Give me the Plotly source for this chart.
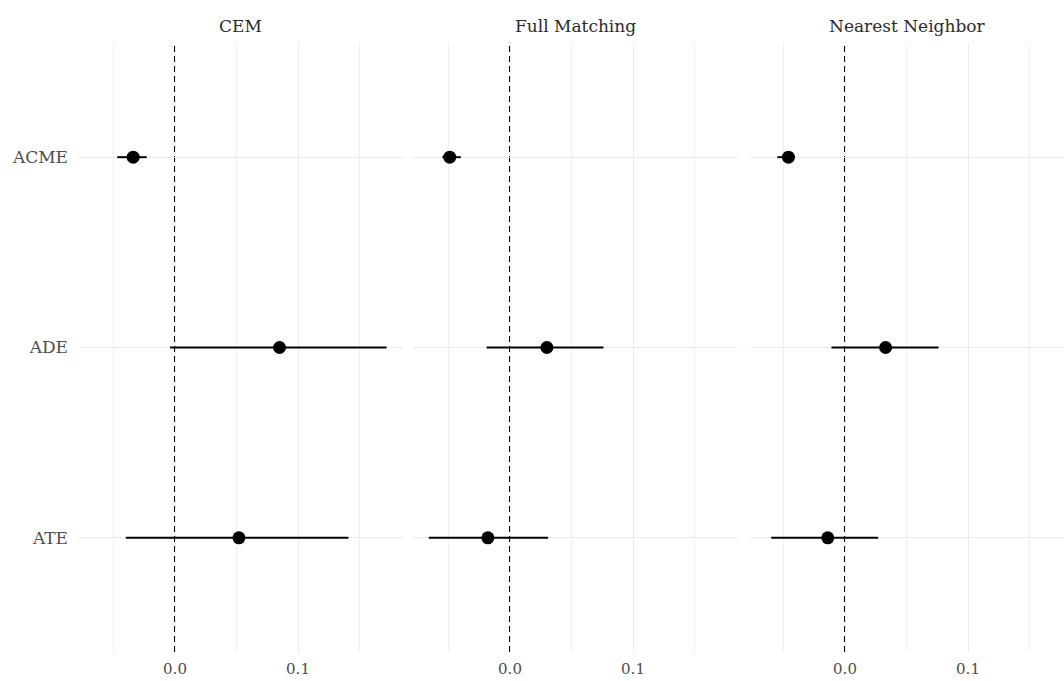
import plotly.graph_objects as go

methods = ["CEM", "Full Matching", "Nearest Neighbor"]
effects = ["ACME", "ADE", "ATE"]

est_cem = [-0.034, 0.085, 0.052]
low_cem = [-0.047, -0.004, -0.040]
upp_cem = [-0.023, 0.172, 0.141]

est_fm = [-0.049, 0.030, -0.018]
low_fm = [-0.055, -0.019, -0.066]
upp_fm = [-0.040, 0.076, 0.031]

est_nn = [-0.046, 0.033, -0.014]
low_nn = [-0.055, -0.011, -0.060]
upp_nn = [-0.041, 0.076, 0.027]

x_tickvals = [0.0, 0.1]
x_ticktext = ["0.0", "0.1"]

data = [(est_cem, low_cem, upp_cem), (est_fm, low_fm, upp_fm), (est_nn, low_nn, upp_nn)]

W, H = 1064, 681
ML, MR, MT, MB = 78, 0, 43, 29
pw = W - ML - MR
panels_px = [(78, 403), (413, 738), (750, 1064)]
domains = [[(a - ML) / pw, (b - ML) / pw] for a, b in panels_px]
px_per_unit = 1230.0
zero_px = [175, 510, 845]
ranges = [[(a - z) / px_per_unit, (b - z) / px_per_unit] for (a, b), z in zip(panels_px, zero_px)]

FONT = "DejaVu Serif"
fig = go.Figure()

for i, (est, low, upp) in enumerate(data):
    xa = "x" if i == 0 else f"x{i+1}"
    plus = [u - e for u, e in zip(upp, est)]
    minus = [e - l for e, l in zip(est, low)]
    fig.add_trace(go.Scatter(
        x=est, y=effects, mode="markers", xaxis=xa, yaxis="y",
        marker=dict(color="black", size=13),
        error_x=dict(type="data", array=plus, arrayminus=minus, color="black",
                     thickness=2, width=0),
        showlegend=False, cliponaxis=False,
    ))
    fig.add_shape(type="line", x0=0, x1=0, y0=0, y1=1, xref=xa,
                  yref="y domain", line=dict(color="black", width=2, dash="6px,4px"),
                  layer="below")
    fig.add_annotation(text=methods[i], x=sum(domains[i]) / 2, xref="paper",
                       y=1 + (MT - 26) / (H - MT - MB), yref="paper",
                       xanchor="center", yanchor="middle", showarrow=False,
                       font=dict(family=FONT, size=17, color="#2b2b2b"))

axis_common = dict(
    tickvals=x_tickvals, ticktext=x_ticktext, showgrid=True, gridcolor="#ebebeb",
    gridwidth=1, zeroline=False, showline=False, ticks="",
    ticklabelstandoff=6, automargin=False,
    tickfont=dict(family=FONT, size=15, color="#4d4d4d"),
    minor=dict(tickvals=[-0.05, 0.05, 0.15], showgrid=True, gridcolor="#f0f0f0", gridwidth=1),
)

layout = dict(
    width=W, height=H, margin=dict(l=ML, r=MR, t=MT, b=MB),
    paper_bgcolor="white", plot_bgcolor="white",
    yaxis=dict(categoryorder="array", categoryarray=["ATE", "ADE", "ACME"],
               range=[-0.6, 2.6], showgrid=True, gridcolor="#ebebeb", gridwidth=1,
               zeroline=False, ticks="", ticklabelstandoff=9, automargin=False,
               tickfont=dict(family=FONT, size=17, color="#4d4d4d")),
)
for i in range(3):
    key = "xaxis" if i == 0 else f"xaxis{i+1}"
    ax = dict(axis_common)
    ax.update(domain=domains[i], range=ranges[i], anchor="y")
    layout[key] = ax

fig.update_layout(**layout)
fig.write_html("out.html")
